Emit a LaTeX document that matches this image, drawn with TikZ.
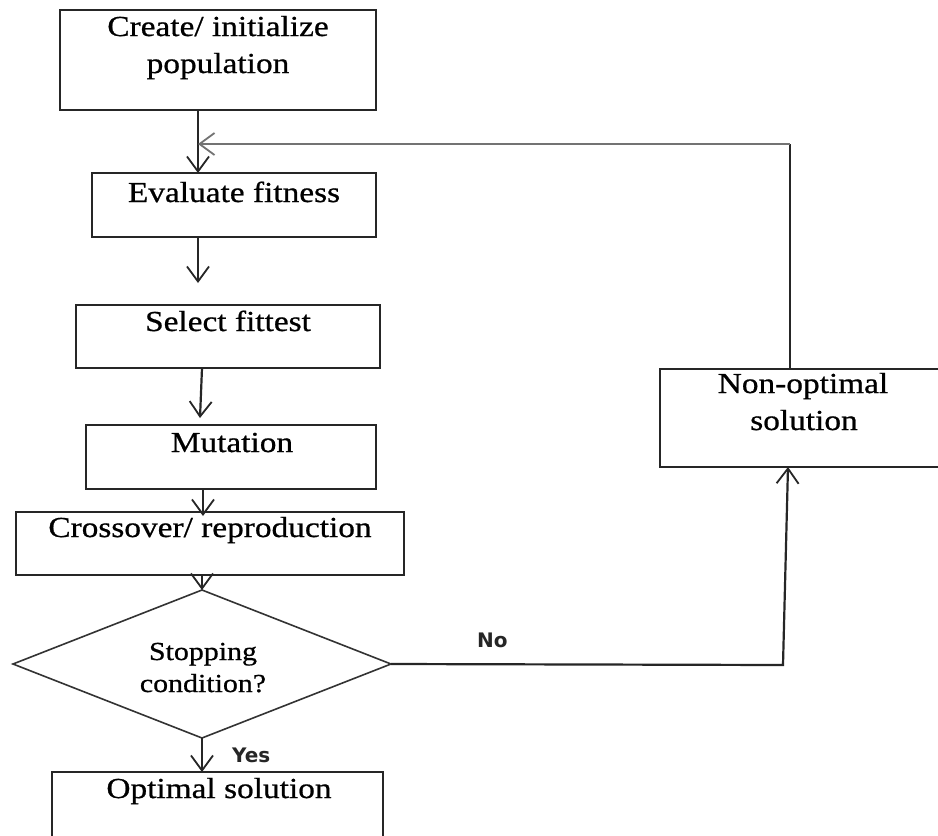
\documentclass[tikz,border=0pt]{standalone}
\usepackage{fontspec}
\setmainfont{Liberation Serif}[FakeStretch=1.15,FakeBold=0.7]
\newfontfamily\lblfont{DejaVu Sans}
\usetikzlibrary{arrows.meta,shapes.geometric}
\begin{document}
\begin{tikzpicture}[x=1pt,y=-1pt,
  line/.style={draw=black!85, line width=2.2pt},
  box/.style={line, rectangle, inner sep=0pt, outer sep=0pt},
  txt/.style={anchor=base, inner sep=0pt, font=\fontsize{29}{35}\selectfont},
  dtxt/.style={anchor=base, inner sep=0pt, font=\fontsize{26}{31}\selectfont},
  lbl/.style={anchor=base west, inner sep=0pt, font=\lblfont\bfseries\fontsize{20}{24}\selectfont, text=black!85},
  arr/.style={line, -{Straight Barb[length=15pt,width=22pt,line width=1.8pt]}},
]
\useasboundingbox (0,0) rectangle (938,836);
\clip (0,0) rectangle (938,836);
\fill[white] (0,0) rectangle (938,836);

% boxes
\node[box, minimum width=316pt, minimum height=100pt] (create) at (218,60) {};
\node[box, minimum width=284pt, minimum height=64pt] (eval) at (234,205) {};
\node[box, minimum width=304pt, minimum height=63pt] (select) at (228,336.5) {};
\node[box, minimum width=290pt, minimum height=64pt] (mutation) at (231,457) {};
\node[box, minimum width=388pt, minimum height=63pt] (crossover) at (210,543.5) {};
\node[diamond, draw=black!80, line width=1.6pt, inner sep=0pt, outer sep=0pt,
      minimum width=378pt, minimum height=148pt] (dia) at (202,664) {};
\node[box, minimum width=331pt, minimum height=108pt] (optimal) at (217.5,826) {};
\node[box, minimum width=286pt, minimum height=98pt] (nonopt) at (803,418) {};

% texts
\node[txt] (t1a) at (218,36) {Create/ initialize};
\node[txt] (t1b) at (218,73) {population};
\node[txt] (t2) at (234,202) {Evaluate fitness};
\node[txt] (t3) at (228,331) {Select fittest};
\node[txt] (t4) at (232,452) {Mutation};
\node[txt] (t5) at (210,537) {Crossover/ reproduction};
\node[dtxt] (t6a) at (203,660) {Stopping};
\node[dtxt] (t6b) at (203,692) {condition?};
\node[txt] (t7) at (219,798) {Optimal solution};
\node[txt] (t8a) at (803,393) {Non-optimal};
\node[txt] (t8b) at (804,430) {solution};
\node[lbl] (yes) at (232,762) {Yes};
\node[lbl] (no) at (477,647) {No};

% helper coordinates
\coordinate (xa) at (198,0);
\coordinate (fbx) at (790,0);
\coordinate (fb) at (198,144);
\coordinate (fbc) at (790,144);
\coordinate (es) at (198,283);
\coordinate (smx) at (202,0);
\coordinate (sm) at (200,418);
\coordinate (mcx) at (203,0);
\coordinate (nc) at (783,665);
\coordinate (nhx) at (788,0);

% connectors
\draw[arr] (create.south -| xa) -- (eval.north -| xa);
\draw[line] (nonopt.north -| fbx) -- (fbc);
\draw[arr, draw=black!55] (fbc) -- (fb);
\draw[arr] (eval.south -| xa) -- (es);
\draw[arr] (select.south -| smx) -- (sm);
\draw[arr] (mutation.south -| mcx) -- ([yshift=-4pt]crossover.north -| mcx);
\draw[arr] (crossover.south -| dia.north) -- (dia.north);
\draw[arr] (dia.south) -- (optimal.north -| dia.south);
\draw[arr] (dia.east) -- (nc) -- (nonopt.south -| nhx);
\end{tikzpicture}
\end{document}
